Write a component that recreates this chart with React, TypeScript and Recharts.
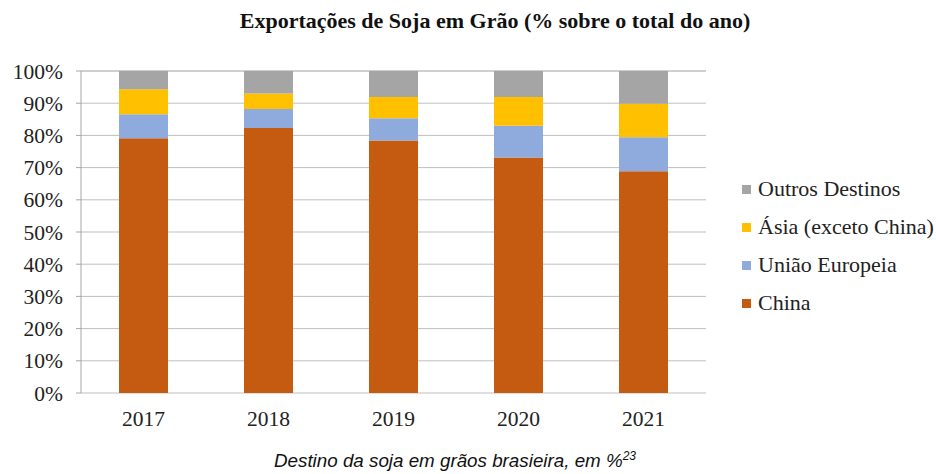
import React from 'react';
import { BarChart, Bar, XAxis, YAxis, CartesianGrid } from 'recharts';

const years = ['2017', '2018', '2019', '2020', '2021'];
const china = [79.1, 82.3, 78.4, 73.1, 68.9];
const uniaoEuropeia = [7.5, 5.9, 6.9, 9.9, 10.5];
const asia = [7.7, 4.8, 6.6, 8.9, 10.4];
const outros = [5.7, 7.0, 8.1, 8.1, 10.2];
const yTicks = [0, 10, 20, 30, 40, 50, 60, 70, 80, 90, 100];
const boundaryTicks = [0, 1, 2, 3, 4, 5];

const series = [
  { key: 'china', name: 'China', color: '#C55A11' },
  { key: 'ue', name: 'União Europeia', color: '#8FAADC' },
  { key: 'asia', name: 'Ásia (exceto China)', color: '#FFC000' },
  { key: 'outros', name: 'Outros Destinos', color: '#A5A5A5' },
];

const chartData = years.map((year, i) => ({
  year,
  china: china[i],
  ue: uniaoEuropeia[i],
  asia: asia[i],
  outros: outros[i],
}));

const serif = '"Liberation Serif", "Times New Roman", serif';

export default function App() {
  return (
    <div style={{ position: 'absolute', left: 0, top: 0, width: 936, height: 474, background: '#fff' }}>
      <div
        style={{
          position: 'absolute',
          top: 8,
          left: 0,
          width: 990,
          textAlign: 'center',
          fontFamily: serif,
          fontWeight: 'bold',
          fontSize: 22,
          color: '#111',
        }}
      >
        Exportações de Soja em Grão (% sobre o total do ano)
      </div>
      <BarChart
        width={936}
        height={474}
        data={chartData}
        margin={{ top: 71, right: 230, bottom: 51, left: 0 }}
        barSize={49}
      >
        <CartesianGrid vertical={false} stroke="#BFBFBF" />
        <XAxis
          xAxisId="edges"
          type="number"
          domain={[0, 5]}
          ticks={boundaryTicks}
          height={0}
          tick={false}
          tickSize={5}
          stroke="#A6A6A6"
        />
        <XAxis
          dataKey="year"
          height={30}
          axisLine={false}
          tickLine={false}
          interval={0}
          tickMargin={12}
          tick={{ fill: '#222', fontSize: 21.5, fontFamily: serif }}
        />
        <YAxis
          width={81}
          domain={[0, 100]}
          ticks={yTicks}
          interval={0}
          stroke="#A6A6A6"
          tickSize={5}
          tickMargin={13}
          tickFormatter={(v: number) => `${v}%`}
          tick={{ fill: '#222', fontSize: 21.5, fontFamily: serif }}
        />
        {series.map((s) => (
          <Bar
            key={s.key}
            dataKey={s.key}
            name={s.name}
            stackId="a"
            fill={s.color}
            isAnimationActive={false}
          />
        ))}
      </BarChart>
      <div
        style={{
          position: 'absolute',
          left: 742,
          top: 170,
          fontFamily: serif,
          fontSize: 22,
          color: '#222',
        }}
      >
        {[...series].reverse().map((s) => (
          <div key={s.key} style={{ display: 'flex', alignItems: 'center', height: 38 }}>
            <span style={{ width: 9, height: 9, background: s.color, marginRight: 7, display: 'inline-block' }} />
            <span>{s.name}</span>
          </div>
        ))}
      </div>
      <div
        style={{
          position: 'absolute',
          top: 449,
          left: 0,
          width: 910,
          textAlign: 'center',
          fontFamily: '"Liberation Sans", Arial, sans-serif',
          fontStyle: 'italic',
          fontSize: 18.8,
          color: '#111',
        }}
      >
        Destino da soja em grãos brasieira, em %<sup style={{ fontSize: 12 }}>23</sup>
      </div>
    </div>
  );
}
